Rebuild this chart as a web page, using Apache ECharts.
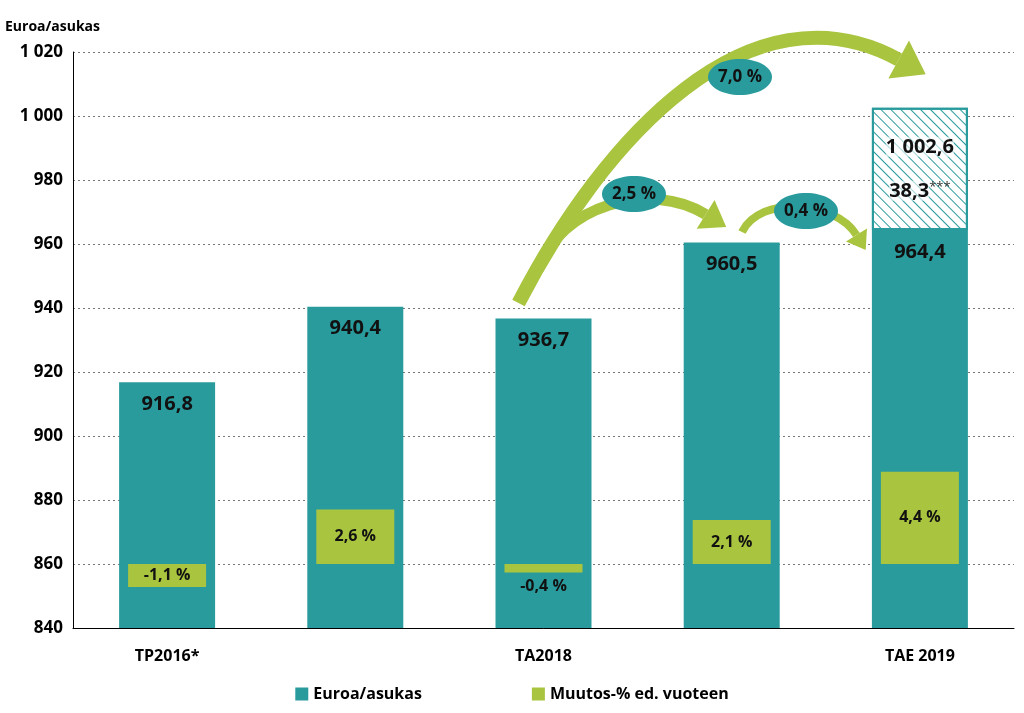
<!DOCTYPE html>
<html><head><meta charset="utf-8">
<script src="https://cdn.jsdelivr.net/npm/echarts@6/dist/echarts.min.js"></script>
<style>html,body{margin:0;background:#fff}#c{width:1024px;height:713px}</style>
</head><body><div id="c"></div>
<script>
const categories = ['TP2016*', 'TP2017', 'TA2018', 'ENN2018 ("7+5")**', 'TAE 2019'];
const euroValues = [916.8, 940.4, 936.7, 960.5, 964.4];
const extraValues = [null, null, null, null, 38.2];
const changePct = [-1.1, 2.6, -0.4, 2.1, 4.4];
const yTicks = [840, 1020, 20];
const arrowPct = ['7,0 %', '2,5 %', '0,4 %'];

const teal = '#2a9b9d', green = '#a9c43f';
const k = 6.55; // units per % on the second scale (base 860)
const fmt = v => v.toFixed(1).replace('.', ',');
const fmtThousands = v => {
  const s = fmt(v); const [i, d] = s.split(',');
  return i.replace(/\B(?=(\d{3})+(?!\d))/g, ' ') + ',' + d;
};
const font = '"Open Sans", "Liberation Sans", Arial, sans-serif';

const chart = echarts.init(document.getElementById('c'));
chart.setOption({
  animation: false,
  textStyle: { fontFamily: font },
  grid: { left: 73, right: 10, top: 52, bottom: 85 },
  legend: {
    bottom: 6, left: 'center', itemWidth: 13, itemHeight: 13, itemGap: 110, icon: 'rect',
    data: ['Euroa/asukas', 'Muutos-% ed. vuoteen'],
    textStyle: { fontSize: 16, fontWeight: 'bold', color: '#000' }
  },
  xAxis: [
    { type: 'category', data: categories, axisTick: { show: false },
      axisLine: { onZero: false, lineStyle: { color: '#000' } },
      axisLabel: { fontSize: 16, fontWeight: 'bold', color: '#000', margin: 20 } },
    { type: 'category', data: categories, show: false }
  ],
  yAxis: [
    { type: 'value', min: yTicks[0], max: yTicks[1], interval: yTicks[2],
      axisLine: { show: true, lineStyle: { color: '#000' } },
      splitLine: { lineStyle: { type: [2, 3], color: '#777' } },
      name: 'Euroa/asukas', nameLocation: 'end', nameGap: 18,
      nameTextStyle: { align: 'left', padding: [0, 0, 0, -68], fontSize: 14, fontWeight: 'bold', color: '#000' },
      axisLabel: { fontSize: 17, fontWeight: 'bold', color: '#000', margin: 10,
        formatter: v => String(v).replace(/\B(?=(\d{3})+(?!\d))/g, ' ') } },
    { type: 'value', min: (yTicks[0] - 860) / k, max: (yTicks[1] - 860) / k, show: false, splitLine: { show: false } }
  ],
  series: [
    { name: 'Euroa/asukas', type: 'bar', stack: 'e', barWidth: 96, data: euroValues,
      itemStyle: { color: teal },
      label: { show: true, position: 'insideTop', distance: 12, fontSize: 20, fontWeight: 'bold', color: '#111', formatter: p => fmt(p.value) } },
    { name: 'extra', type: 'bar', stack: 'e', barWidth: 96, data: extraValues,
      itemStyle: { color: '#fff', borderColor: teal, borderWidth: 2,
        decal: { symbol: 'rect', color: teal, dashArrayX: [1, 0], dashArrayY: [1, 6], rotation: Math.PI / 4 } },
      label: { show: true, position: 'inside', color: '#111',
        formatter: p => '{a|' + fmtThousands(euroValues[p.dataIndex] + p.value) + '}\n\n\n{a|38,3}{b|***}',
        rich: { a: { fontSize: 20, fontWeight: 'bold', color: '#111', backgroundColor: 'rgba(255,255,255,0.6)' }, b: { fontSize: 13, verticalAlign: 'top', color: '#333' } } } },
    { name: 'Muutos-% ed. vuoteen', type: 'bar', xAxisIndex: 1, yAxisIndex: 1, barWidth: 78,
      data: changePct.map(v => v === -0.4 ? { value: v, label: { position: 'bottom', distance: 6 } } : v),
      itemStyle: { color: green },
      label: { show: true, position: 'inside', fontSize: 16, fontWeight: 'bold', color: '#111', formatter: p => fmt(p.value) + ' %' } }
  ]
});

const P = (i, v) => chart.convertToPixel({ xAxisIndex: 0, yAxisIndex: 0 }, [categories[i], v]);
function arrow(from, c1, c2, to, w, labelPt, text) {
  const ang = Math.atan2(to[1] - c2[1], to[0] - c2[0]);
  const h = w * 2.2, ex = [to[0] - Math.cos(ang) * h * 0.6, to[1] - Math.sin(ang) * h * 0.6];
  const nx = -Math.sin(ang), ny = Math.cos(ang);
  return [
    { type: 'bezierCurve', shape: { x1: from[0], y1: from[1], cpx1: c1[0], cpy1: c1[1], cpx2: c2[0], cpy2: c2[1], x2: ex[0], y2: ex[1] },
      style: { stroke: green, lineWidth: w, fill: null } },
    { type: 'polygon', shape: { points: [[ex[0] + nx * h * 0.7, ex[1] + ny * h * 0.7], [to[0] + Math.cos(ang) * h * 0.4, to[1] + Math.sin(ang) * h * 0.4], [ex[0] - nx * h * 0.7, ex[1] - ny * h * 0.7]] },
      style: { fill: green } },
    { type: 'ellipse', shape: { cx: labelPt[0], cy: labelPt[1], rx: 32, ry: 18 }, style: { fill: teal } },
    { type: 'text', x: labelPt[0], y: labelPt[1], style: { text: text, fill: '#111', font: 'bold 17px ' + font, align: 'center', verticalAlign: 'middle' } }
  ];
}
const a = P(2, 940), b = P(4, 1018);
const g = [].concat(
  arrow([a[0] - 25, a[1] - 5], [a[0] + 60, a[1] - 170], [b[0] - 170, b[1] - 80], [b[0] - 5, b[1] + 10], 14, [740, 77], arrowPct[0]),
  arrow([538, 270], [560, 205], [650, 180], [718, 222], 11, [634, 194], arrowPct[1]),
  arrow([742, 232], [760, 195], [835, 200], [862, 244], 8, [806, 211], arrowPct[2])
);
chart.setOption({ graphic: g });
</script></body></html>
